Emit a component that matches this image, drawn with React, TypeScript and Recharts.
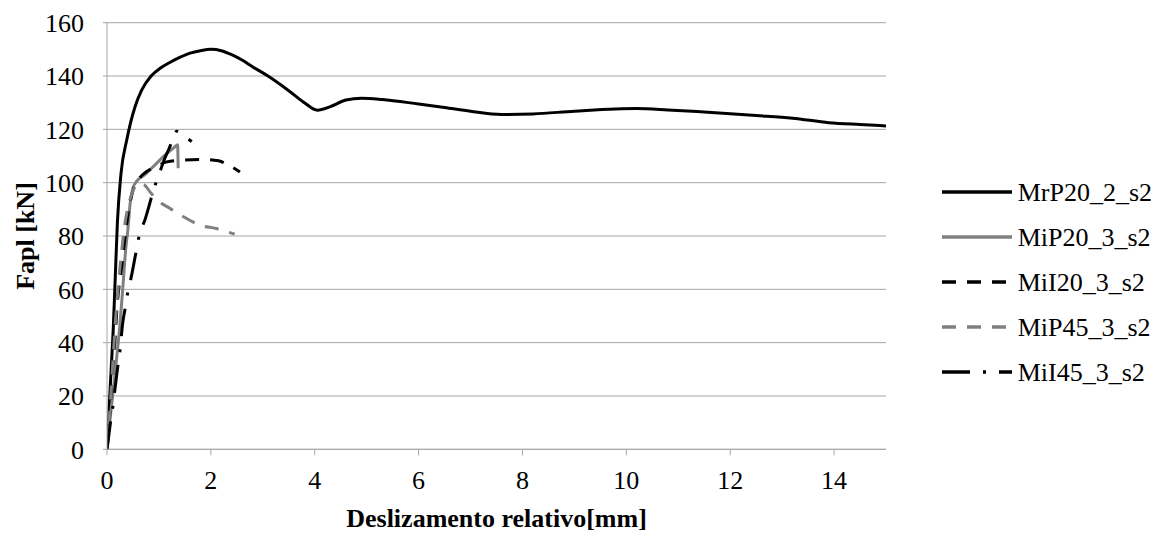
import React from "react";
import { LineChart, Line, XAxis, YAxis, CartesianGrid, Legend } from "recharts";

// slip [mm] / load [kN] pairs per specimen
const mrp20Slip = [0, 0.04, 0.08, 0.12, 0.16, 0.2, 0.27, 0.38, 0.54, 0.67, 0.85, 1.03, 1.2, 1.4, 1.6, 1.8, 2.0, 2.2, 2.4, 2.6, 2.8, 3.1, 3.5, 3.8, 4.05, 4.3, 4.6, 4.9, 5.3, 6.0, 6.5, 7.0, 7.6, 8.2, 9.0, 10.2, 10.8, 11.5, 12.5, 13.2, 13.9, 14.5, 15.0];
const mrp20Load = [0, 15, 30, 45, 65, 85, 103.5, 116, 128.5, 134.8, 140, 143, 145, 147, 148.6, 149.5, 150, 149.5, 148, 146, 143.5, 140, 134.5, 130, 127.2, 128.5, 131, 131.7, 131.2, 129.5, 128.2, 126.8, 125.6, 125.8, 126.8, 127.8, 127.3, 126.5, 125.2, 124.2, 122.5, 121.8, 121.3];

const mip20Slip = [0, 0.04, 0.08, 0.12, 0.19, 0.25, 0.31, 0.36, 0.4, 0.45, 0.5, 0.57, 0.73, 0.92, 1.12, 1.31, 1.36, 1.37];
const mip20Load = [0, 8, 15, 22, 35, 47, 62, 75, 82, 93, 98, 100.5, 103, 106.6, 110.4, 113.5, 114.2, 105.4];

const mii20Slip = [0, 0.05, 0.1, 0.15, 0.2, 0.28, 0.35, 0.42, 0.5, 0.6, 0.75, 0.95, 1.15, 1.5, 1.9, 2.15, 2.35, 2.56];
const mii20Load = [0, 12, 28, 40, 55, 68, 80, 90, 97, 101, 104, 106, 107.8, 108.5, 108.7, 108.2, 106.5, 104];

const mip45Slip = [0, 0.04, 0.08, 0.12, 0.17, 0.22, 0.28, 0.34, 0.42, 0.5, 0.6, 0.7, 0.85, 1.0, 1.2, 1.45, 1.8, 2.1, 2.46];
const mip45Load = [0, 10, 22, 35, 50, 62, 74, 84, 92, 97, 99.5, 99.3, 96, 93, 90.5, 87.5, 84, 82.8, 80.7];

const mii45Slip = [0, 0.04, 0.08, 0.12, 0.15, 0.2, 0.25, 0.3, 0.36, 0.41, 0.46, 0.54, 0.63, 0.73, 0.82, 0.9, 1.0, 1.1, 1.2, 1.28, 1.34, 1.45, 1.63];
const mii45Load = [0, 6, 12, 17, 22, 30, 37, 47, 54, 60, 64, 72, 81, 86, 92, 97.5, 103, 108.5, 113, 117, 119.3, 118, 115.4];

const xTicks = [0, 2, 4, 6, 8, 10, 12, 14];
const yTicks = [0, 20, 40, 60, 80, 100, 120, 140, 160];

const toPoints = (xs: number[], ys: number[]) => xs.map((x, i) => ({ x, y: ys[i] }));

const FONT =
  '"Liberation Serif", "Times New Roman", Times, Tinos, "Nimbus Roman", "Nimbus Roman No9 L", "Noto Serif", "DejaVu Serif", FreeSerif, serif';
const GRID = "#a6a6a6";

const series = [
  { name: "MrP20_2_s2", data: toPoints(mrp20Slip, mrp20Load), color: "#000000", dash: undefined },
  { name: "MiP20_3_s2", data: toPoints(mip20Slip, mip20Load), color: "#808080", dash: undefined },
  { name: "MiI20_3_s2", data: toPoints(mii20Slip, mii20Load), color: "#000000", dash: "14 11" },
  { name: "MiP45_3_s2", data: toPoints(mip45Slip, mip45Load), color: "#808080", dash: "14 11" },
  { name: "MiI45_3_s2", data: toPoints(mii45Slip, mii45Load), color: "#000000", dash: "28 13 3 13" },
];

function LegendBox() {
  return (
    <div style={{ fontFamily: FONT, fontSize: 26, color: "#000" }}>
      {series.map((s) => (
        <div key={s.name} style={{ display: "flex", alignItems: "center", height: 45 }}>
          <svg width={70} height={10} style={{ display: "block" }}>
            <line x1={0} y1={5} x2={70} y2={5} stroke={s.color} strokeWidth={3.5} strokeDasharray={s.dash} />
          </svg>
          <span style={{ marginLeft: 6, lineHeight: "45px", fontFamily: FONT }}>{s.name}</span>
        </div>
      ))}
    </div>
  );
}

function YTitle({ viewBox }: any) {
  const cx = viewBox.x + 18;
  const cy = viewBox.y + viewBox.height / 2;
  return (
    <text x={cx} y={cy} transform={`rotate(-90 ${cx} ${cy})`} textAnchor="middle" dominantBaseline="central"
      style={{ fontFamily: FONT, fontSize: 26, fontWeight: "bold" }} fill="#000">
      Fapl [kN]
    </text>
  );
}

function XTitle({ viewBox }: any) {
  const cx = viewBox.x + viewBox.width / 2;
  return (
    <text x={cx} y={527} textAnchor="middle" style={{ fontFamily: FONT, fontSize: 26, fontWeight: "bold" }} fill="#000">
      Deslizamento relativo[mm]
    </text>
  );
}

export default function App() {
  const tick = { fontSize: 26, fill: "#000", style: { fontFamily: FONT } };
  return (
    <div style={{ position: "absolute", left: 0, top: 0, background: "#fff", fontFamily: FONT }}>
      <LineChart width={1164} height={533} margin={{ top: 22.7, right: 278, bottom: 23.7, left: 7 }}
        style={{ fontFamily: FONT }}>
        <CartesianGrid horizontal vertical={false} stroke={GRID} strokeWidth={1} />
        <XAxis type="number" dataKey="x" domain={[0, 15]} ticks={xTicks} allowDataOverflow
          stroke={GRID} tickLine={{ stroke: GRID }} tickSize={6} tickMargin={15.5} height={60}
          tick={tick} label={<XTitle />} />
        <YAxis type="number" dataKey="y" domain={[0, 160]} ticks={yTicks} width={100}
          stroke={GRID} tickLine={{ stroke: GRID }} tickSize={4} tickMargin={19}
          tick={tick} label={<YTitle />} />
        <Legend layout="vertical" align="center" verticalAlign="middle" content={<LegendBox />}
          wrapperStyle={{ left: 941.7, top: 169.5, width: 222 }} />
        {series.map((s) => (
          <Line key={s.name} data={s.data} dataKey="y" name={s.name} type="monotone"
            stroke={s.color} strokeWidth={3} strokeDasharray={s.dash} dot={false}
            activeDot={false} isAnimationActive={false} />
        ))}
      </LineChart>
    </div>
  );
}
